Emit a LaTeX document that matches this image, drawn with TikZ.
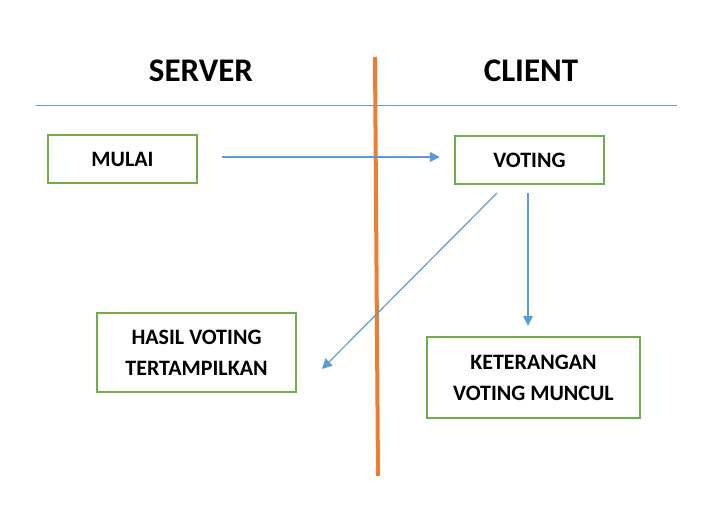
\documentclass[tikz,border=0pt]{standalone}
\usepackage{fontspec}
\setmainfont{Carlito}
\usetikzlibrary{arrows.meta}

\definecolor{boxgreen}{RGB}{112,173,71}
\definecolor{flowblue}{RGB}{91,155,213}
\definecolor{splitorange}{RGB}{237,125,49}

\tikzset{
    stepbox/.style={draw=boxgreen, line width=2.5pt, align=center, inner sep=0pt,
        font=\fontsize{22}{31}\selectfont\bfseries},
    header/.style={font=\fontsize{33}{36}\selectfont\bfseries},
    flow/.style={draw=flowblue, line width=1.2pt, -{Triangle[length=10pt,width=10pt]}}
}

\begin{document}
\begin{tikzpicture}[x=1pt, y=-1pt]

        \useasboundingbox (0,0) rectangle (724,511);

        % Headers
        \node [header] (server) at (201,71) {SERVER};
        \node [header] (client) at (531,71) {CLIENT};

        % Header line
        \coordinate (rule-l) at (36,106);
        \coordinate (rule-r) at (677,106);
        \draw [flowblue, line width=1pt] (rule-l) -- (rule-r);

        % Divider
        \coordinate (split-top) at (375,57);
        \coordinate (split-bot) at (378,476);
        \draw [splitorange, line width=4pt] (split-top) -- (split-bot);

        % Boxes
        \node [stepbox, minimum width=149, minimum height=48] (mulai) at (122.5,159) {MULAI};
        \node [stepbox, minimum width=149, minimum height=48] (voting) at (529.5,160) {VOTING};
        \node [stepbox, minimum width=199, minimum height=79] (hasil) at (196.5,352.5) {HASIL VOTING\\TERTAMPILKAN};
        \node [stepbox, minimum width=213, minimum height=81] (keterangan) at (533.5,377.5) {KETERANGAN\\VOTING MUNCUL};

        % Mulai -> Voting
        \coordinate (mulai-out) at ([yshift=2pt]mulai.east);
        \draw [flow, shorten <=24pt, shorten >=14pt] (mulai-out) -- (mulai-out -| voting.west);

        % Voting -> Hasil
        \coordinate (vote-out) at (497,193);
        \coordinate (hasil-in) at (322,369);
        \draw [flow] (vote-out) -- (hasil-in);

        % Voting -> Keterangan
        \coordinate (vote-down) at (528,193);
        \draw [flow, shorten >=10pt] (vote-down) -- (vote-down |- keterangan.north);

    \end{tikzpicture}
\end{document}
